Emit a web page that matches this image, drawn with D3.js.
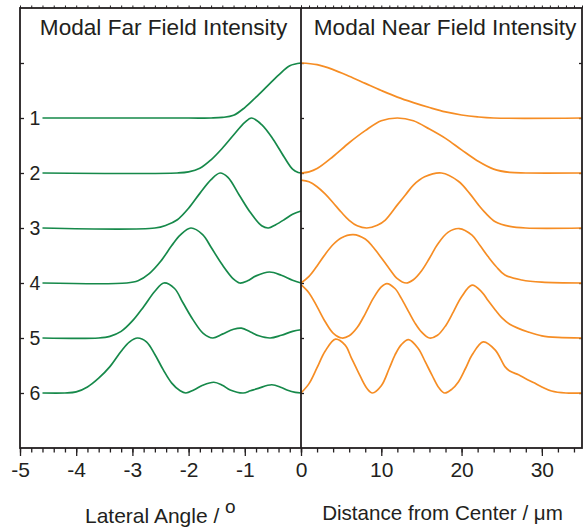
<!DOCTYPE html>
<html>
<head>
<meta charset="utf-8">
<script src="https://cdn.jsdelivr.net/npm/d3@7"></script>
<style>
  body { margin: 0; background: #fff; }
  svg { display: block; }
  text { font-family: "Liberation Sans", Arial, sans-serif; fill: #231f20; }
</style>
</head>
<body>
<div id="chart"></div>
<script>
// mode labels (offset of each trace)
const modeLabels = ["1", "2", "3", "4", "5", "6"];

// far field: [angle (deg), normalised intensity]
const farMode1 = [[-4.6,0],[-2,0],[-1.6,0],[-1.4,0.01],[-1.2,0.05],[-1.0,0.19],[-0.8,0.38],[-0.6,0.58],[-0.4,0.78],[-0.2,0.95],[0,1]];
const farMode2 = [[-4.6,0],[-2.2,0],[-2.0,0.02],[-1.8,0.085],[-1.6,0.24],[-1.4,0.45],[-1.2,0.69],[-1.0,0.92],[-0.88,1.0],[-0.7,0.88],[-0.5,0.62],[-0.3,0.29],[-0.15,0.07],[-0.05,0.01],[0,0]];
const farMode3 = [[-4.6,0],[-2.6,0],[-2.4,0.05],[-2.2,0.15],[-2.0,0.36],[-1.8,0.63],[-1.6,0.88],[-1.44,1.0],[-1.3,0.92],[-1.1,0.6],[-0.9,0.28],[-0.7,0.04],[-0.58,0],[-0.45,0.06],[-0.3,0.15],[-0.15,0.25],[0,0.31]];
const farMode4 = [[-4.6,0],[-3.1,0],[-2.9,0.04],[-2.7,0.17],[-2.5,0.39],[-2.3,0.68],[-2.15,0.87],[-1.96,1.0],[-1.75,0.88],[-1.6,0.65],[-1.4,0.33],[-1.2,0.07],[-1.09,0],[-0.95,0.04],[-0.8,0.13],[-0.56,0.2],[-0.35,0.14],[-0.15,0.05],[0,0]];
const farMode5 = [[-4.6,0],[-3.6,0],[-3.4,0.03],[-3.2,0.12],[-3.0,0.31],[-2.8,0.57],[-2.6,0.85],[-2.44,1.0],[-2.25,0.9],[-2.1,0.64],[-1.92,0.33],[-1.74,0.085],[-1.57,0],[-1.4,0.07],[-1.2,0.16],[-1.06,0.18],[-0.9,0.11],[-0.75,0.04],[-0.55,0],[-0.35,0.05],[-0.15,0.12],[0,0.15]];
const farMode6 = [[-4.6,0],[-4.2,0],[-4.0,0.02],[-3.8,0.11],[-3.6,0.27],[-3.4,0.48],[-3.2,0.76],[-3.05,0.93],[-2.91,1.0],[-2.75,0.93],[-2.6,0.7],[-2.45,0.42],[-2.3,0.18],[-2.15,0.04],[-2.05,0],[-1.9,0.06],[-1.75,0.14],[-1.55,0.195],[-1.4,0.14],[-1.26,0.055],[-1.03,0],[-0.9,0.04],[-0.76,0.085],[-0.52,0.15],[-0.35,0.1],[-0.25,0.055],[-0.1,0.01],[0,0]];

// near field: [distance (um), normalised intensity]
const nearMode1 = [[0,1],[2,0.97],[4,0.88],[6,0.76],[8,0.63],[10,0.5],[12,0.38],[14,0.28],[16,0.19],[18,0.11],[20,0.055],[22,0.02],[24,0],[35,0]];
const nearMode2 = [[0,0],[1,0.02],[2,0.08],[4,0.3],[6,0.55],[8,0.77],[10,0.95],[12,1.0],[14,0.95],[16,0.8],[18,0.63],[20,0.42],[22,0.22],[24,0.07],[26,0.01],[28,0],[35,0]];
const nearMode3 = [[0,0.87],[1,0.84],[2,0.75],[3,0.62],[4,0.46],[5,0.29],[6,0.14],[7,0.04],[8.2,0],[9.5,0.05],[10.5,0.145],[12,0.42],[13,0.6],[14,0.78],[15.4,0.93],[17.5,1.0],[19.6,0.85],[21,0.63],[22.1,0.42],[23,0.27],[24.2,0.115],[26,0.03],[28,0],[35,0]];
const nearMode4 = [[0,0],[1,0.12],[2,0.31],[3,0.52],[4,0.7],[5,0.82],[6.5,0.88],[8,0.8],[9,0.65],[10,0.46],[11,0.26],[12,0.08],[13.1,0],[14,0.06],[15,0.22],[16,0.45],[17,0.7],[18.3,0.92],[19.7,0.99],[21.3,0.87],[22.3,0.68],[23.3,0.48],[24.3,0.3],[25.4,0.145],[27.5,0.055],[30,0.015],[35,0]];
const nearMode5 = [[0,0.97],[1,0.82],[2,0.57],[3,0.3],[4,0.09],[5.1,0],[6,0.04],[7,0.19],[8,0.44],[9,0.72],[10,0.93],[10.7,0.99],[11.7,0.9],[12.5,0.72],[13.4,0.48],[14.2,0.27],[15,0.11],[16,0],[17,0.05],[18,0.22],[19,0.48],[20,0.75],[21.3,0.96],[22.5,0.84],[23.3,0.68],[24.2,0.51],[25,0.37],[26,0.25],[27,0.18],[28.3,0.11],[30,0.04],[32,0.01],[35,0]];
const nearMode6 = [[0,0],[1,0.17],[2,0.46],[3,0.76],[4.3,0.98],[5.5,0.87],[6.3,0.63],[7.1,0.39],[8.2,0.085],[8.9,0],[10,0.13],[11,0.45],[11.7,0.69],[12.5,0.88],[13.4,0.97],[14.6,0.81],[15.5,0.56],[16.3,0.33],[17.2,0.09],[17.9,0],[18.8,0.07],[19.6,0.2],[20.5,0.45],[21.3,0.69],[22.7,0.93],[24.2,0.78],[25.4,0.48],[26,0.4],[27.1,0.33],[28,0.26],[29.1,0.18],[30,0.11],[31.2,0.036],[33,0],[35,0]];

const farModes = [farMode1, farMode2, farMode3, farMode4, farMode5, farMode6];
const nearModes = [nearMode1, nearMode2, nearMode3, nearMode4, nearMode5, nearMode6];

const leftMajor = [-5, -4, -3, -2, -1, 0];
const rightMajor = [10, 20, 30];

const width = 584, height = 529;
const frame = { left: 20, mid: 301, right: 582, top: 8, bottom: 448 };

const xL = d3.scaleLinear().domain([-5, 0]).range([frame.left, frame.mid]);
const xR = d3.scaleLinear().domain([0, 35]).range([frame.mid, frame.right]);
const y = d3.scaleLinear().domain([-1, 7]).range([frame.top, frame.bottom]);

const svg = d3.select("#chart").append("svg")
    .attr("width", width)
    .attr("height", height);

const ink = "#231f20";

// bottom axes - minor then major
function bottomAxis(scale, values, size, labels) {
    const ax = d3.axisBottom(scale).tickValues(values).tickSize(size).tickPadding(6);
    ax.tickFormat(labels ? (d => String(d)) : "");
    const g = svg.append("g")
        .attr("transform", `translate(0,${frame.bottom})`)
        .call(ax);
    g.select(".domain").remove();
    g.selectAll("line").attr("stroke", ink).attr("stroke-width", 1.3);
    g.selectAll("text")
        .attr("font-size", 21)
        .attr("fill", ink)
        .attr("font-family", "Liberation Sans, Arial, sans-serif");
    return g;
}
bottomAxis(xL, d3.range(-5, 0.001, 0.2), 4.5, false);
bottomAxis(xR, d3.range(0, 35.001, 2), 4.5, false);
bottomAxis(xL, leftMajor, 8, true);
bottomAxis(xR, rightMajor, 8, true);

// top ticks (pointing out)
function topAxis(scale, values) {
    const g = svg.append("g")
        .attr("transform", `translate(0,${frame.top})`)
        .call(d3.axisTop(scale).tickValues(values).tickSize(2.5).tickFormat(""));
    g.select(".domain").remove();
    g.selectAll("line").attr("stroke", ink).attr("stroke-width", 1);
}
topAxis(xL, d3.range(-5, 0.001, 0.2));
topAxis(xR, d3.range(0, 35.001, 1));

// y ticks (inward) on the three vertical lines
const yTicks = d3.range(0, 7);
const gLeft = svg.append("g")
    .attr("transform", `translate(${frame.left},0)`)
    .call(d3.axisRight(y).tickValues(yTicks).tickSize(4).tickFormat(""));
const gMid = svg.append("g")
    .attr("transform", `translate(${frame.mid},0)`)
    .call(d3.axisRight(y).tickValues(yTicks).tickSize(3).tickFormat(""));
const gRight = svg.append("g")
    .attr("transform", `translate(${frame.right},0)`)
    .call(d3.axisLeft(y).tickValues(yTicks).tickSize(3).tickFormat(""));
[gLeft, gMid, gRight].forEach(g => {
    g.select(".domain").remove();
    g.selectAll("line").attr("stroke", ink).attr("stroke-width", 1.3);
});

// mode labels
svg.append("g").selectAll("text")
    .data(modeLabels)
    .join("text")
    .attr("x", 35)
    .attr("y", (d, i) => y(i + 1))
    .attr("dy", "0.36em")
    .attr("text-anchor", "middle")
    .attr("font-size", 19.5)
    .text(d => d);

// traces
const farLine = d3.line()
    .x(d => xL(d[0]))
    .curve(d3.curveCatmullRom.alpha(0.5));
const nearLine = d3.line()
    .x(d => xR(d[0]))
    .curve(d3.curveCatmullRom.alpha(0.5));

farModes.forEach((pts, i) => {
    svg.append("path")
        .datum(pts)
        .attr("fill", "none")
        .attr("stroke", "#16894a")
        .attr("stroke-width", 1.7)
        .attr("stroke-linejoin", "round")
        .attr("d", farLine.y(d => y(i + 1 - d[1])));
});
nearModes.forEach((pts, i) => {
    svg.append("path")
        .datum(pts)
        .attr("fill", "none")
        .attr("stroke", "#f68d24")
        .attr("stroke-width", 1.7)
        .attr("stroke-linejoin", "round")
        .attr("d", nearLine.y(d => y(i + 1 - d[1])));
});

// frame
const fr = svg.append("g").attr("stroke", ink).attr("stroke-width", 1.8).attr("fill", "none");
fr.append("rect")
    .attr("x", frame.left).attr("y", frame.top)
    .attr("width", frame.right - frame.left)
    .attr("height", frame.bottom - frame.top);
fr.append("line")
    .attr("x1", frame.mid).attr("x2", frame.mid)
    .attr("y1", frame.top).attr("y2", frame.bottom);

// titles
svg.append("text")
    .attr("x", 163.5).attr("y", 34.5)
    .attr("text-anchor", "middle")
    .attr("font-size", 22.6)
    .text("Modal Far Field Intensity");
svg.append("text")
    .attr("x", 445).attr("y", 34.5)
    .attr("text-anchor", "middle")
    .attr("font-size", 22.6)
    .text("Modal Near Field Intensity");

// axis titles
const xt = svg.append("text")
    .attr("x", 85).attr("y", 523)
    .attr("font-size", 21);
xt.append("tspan").text("Lateral Angle / ");
xt.append("tspan").attr("dy", -10).attr("font-size", 19).text("o");

svg.append("text")
    .attr("x", 442.5).attr("y", 520)
    .attr("text-anchor", "middle")
    .attr("font-size", 20.6)
    .text("Distance from Center / \u03bcm");
</script>
</body>
</html>
